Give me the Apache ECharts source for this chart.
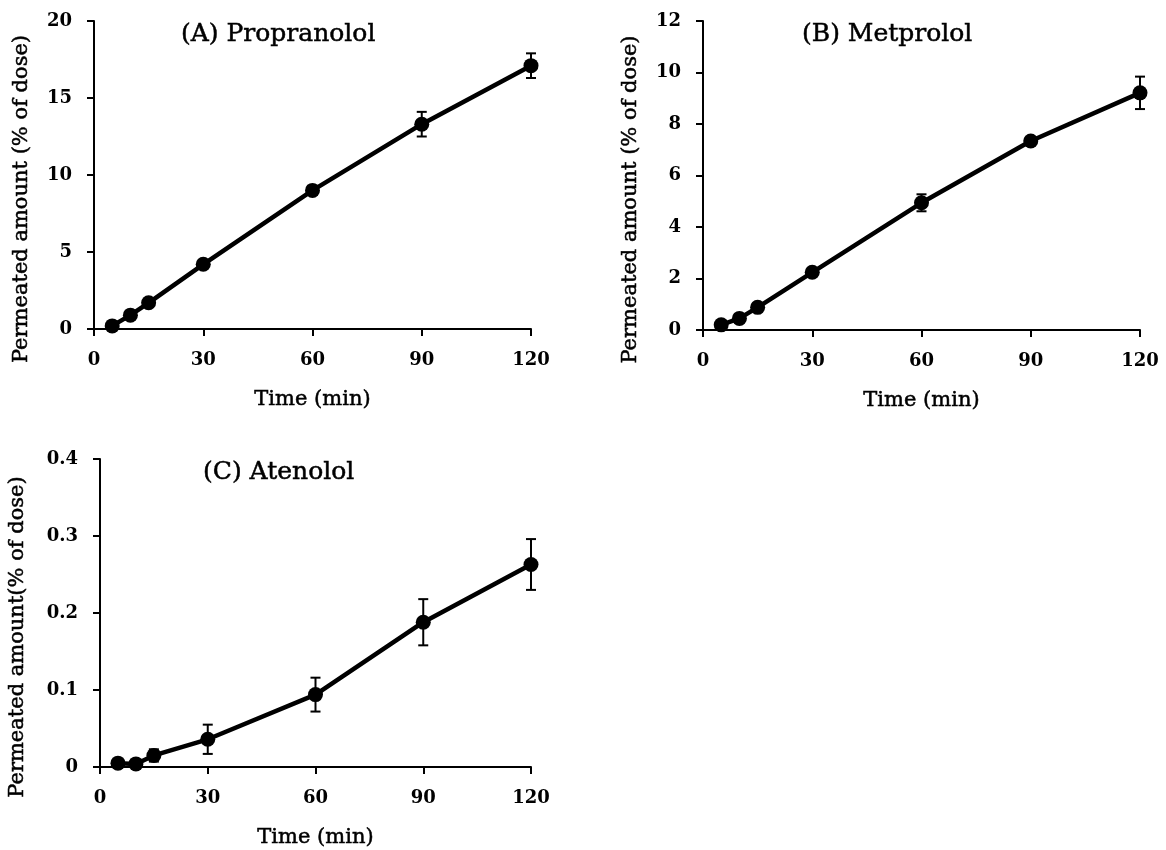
<!DOCTYPE html>
<html>
<head>
<meta charset="utf-8">
<script src="https://cdn.jsdelivr.net/npm/echarts@6/dist/echarts.min.js"></script>
<style>
  html, body { margin: 0; padding: 0; background: #fff; }
  #chart { width: 1166px; height: 850px; }
</style>
</head>
<body>
<div id="chart"></div>
<script>
// Sampling times (min)
const times = [5, 10, 15, 30, 60, 90, 120];

// Permeated amount (% of dose), mean and SD per drug
const propranololMean = [0.2, 0.9, 1.7, 4.2, 9.0, 13.3, 17.1];
const propranololSd   = [0.05, 0.1, 0.1, 0.2, 0.3, 0.8, 0.8];

const metprololMean = [0.2, 0.45, 0.88, 2.24, 4.94, 7.34, 9.21];
const metprololSd   = [0.05, 0.05, 0.08, 0.1, 0.33, 0.12, 0.63];

const atenololMean = [0.005, 0.004, 0.015, 0.036, 0.094, 0.188, 0.263];
const atenololSd   = [0.002, 0.002, 0.008, 0.019, 0.022, 0.030, 0.033];

// Axis ranges and tick steps
const xTicks = [0, 30, 60, 90, 120];
const yRanges = [
  { max: 20, interval: 5 },
  { max: 12, interval: 2 },
  { max: 0.4, interval: 0.1 }
];

const panelTitles = ['(A) Propranolol', '(B) Metprolol', '(C) Atenolol'];
const yNames = ['Permeated amount (% of dose)', 'Permeated amount (% of dose)', 'Permeated amount(% of dose)'];
const xName = 'Time (min)';

const FONT = 'DejaVu Serif';
const INK = '#000';

// a hairline outline gives the serif text a slightly heavier face
const heavy = { textBorderColor: INK, textBorderWidth: 0.5 };

const grids = [
  { left: 94, top: 21, width: 437, height: 308 },
  { left: 703, top: 21, width: 437, height: 309 },
  { left: 100, top: 459, width: 431, height: 308 }
];

function xAxisFor(i) {
  return {
    type: 'value', gridIndex: i, min: xTicks[0], max: xTicks[xTicks.length - 1], interval: 30,
    name: xName, nameLocation: 'middle', nameGap: 60,
    nameTextStyle: Object.assign({ fontFamily: FONT, fontSize: 21, color: INK }, heavy),
    axisLine: { show: true, onZero: false, lineStyle: { color: INK, width: 2 } },
    axisTick: { show: true, inside: false, length: 7, lineStyle: { color: INK, width: 2 } },
    axisLabel: { fontFamily: FONT, fontSize: 18, fontWeight: 'bold', color: INK, margin: 22 },
    splitLine: { show: false }
  };
}

function yAxisFor(i) {
  return {
    type: 'value', gridIndex: i, min: 0, max: yRanges[i].max, interval: yRanges[i].interval,
    name: yNames[i], nameLocation: 'middle', nameRotate: 90,
    nameGap: i === 2 ? 72 : 62,
    nameTextStyle: Object.assign({ fontFamily: FONT, fontSize: 21, color: INK, padding: [0, 48, 0, 0] }, heavy),
    axisLine: { show: true, lineStyle: { color: INK, width: 2 } },
    axisTick: { show: true, inside: false, length: 7, lineStyle: { color: INK, width: 2 } },
    axisLabel: { fontFamily: FONT, fontSize: 18, fontWeight: 'bold', color: INK, margin: 22 },
    splitLine: { show: false }
  };
}

function pairs(mean) {
  return times.map((t, k) => [t, mean[k]]);
}

function errRows(mean, sd) {
  return times.map((t, k) => [t, mean[k] - sd[k], mean[k] + sd[k]]);
}

function errorBarSeries(i, mean, sd) {
  return {
    type: 'custom', xAxisIndex: i, yAxisIndex: i, z: 3,
    data: errRows(mean, sd),
    renderItem: function (params, api) {
      const x = api.value(0);
      const lo = api.coord([x, api.value(1)]);
      const hi = api.coord([x, api.value(2)]);
      const half = 5;
      const style = { stroke: INK, lineWidth: 2 };
      return {
        type: 'group',
        children: [
          { type: 'line', shape: { x1: lo[0], y1: lo[1], x2: hi[0], y2: hi[1] }, style: style },
          { type: 'line', shape: { x1: hi[0] - half, y1: hi[1], x2: hi[0] + half, y2: hi[1] }, style: style },
          { type: 'line', shape: { x1: lo[0] - half, y1: lo[1], x2: lo[0] + half, y2: lo[1] }, style: style }
        ]
      };
    }
  };
}

function lineSeries(i, mean) {
  return {
    type: 'line', xAxisIndex: i, yAxisIndex: i, z: 4,
    data: pairs(mean),
    symbol: 'circle', symbolSize: 15,
    itemStyle: { color: INK },
    lineStyle: { color: INK, width: 4.5 },
    animation: false
  };
}

function titleAt(text, left, top) {
  return {
    text: text, left: left, top: top,
    textStyle: Object.assign({ fontFamily: FONT, fontSize: 25, fontWeight: 'normal', color: INK }, heavy)
  };
}

const chart = echarts.init(document.getElementById('chart'), null, { renderer: 'canvas' });

chart.setOption({
  backgroundColor: '#fff',
  animation: false,
  title: [
    titleAt(panelTitles[0], 176, 17),
    titleAt(panelTitles[1], 797, 17),
    titleAt(panelTitles[2], 198, 455)
  ],
  grid: grids,
  xAxis: [xAxisFor(0), xAxisFor(1), xAxisFor(2)],
  yAxis: [yAxisFor(0), yAxisFor(1), yAxisFor(2)],
  series: [
    errorBarSeries(0, propranololMean, propranololSd),
    lineSeries(0, propranololMean),
    errorBarSeries(1, metprololMean, metprololSd),
    lineSeries(1, metprololMean),
    errorBarSeries(2, atenololMean, atenololSd),
    lineSeries(2, atenololMean)
  ]
});
</script>
</body>
</html>
